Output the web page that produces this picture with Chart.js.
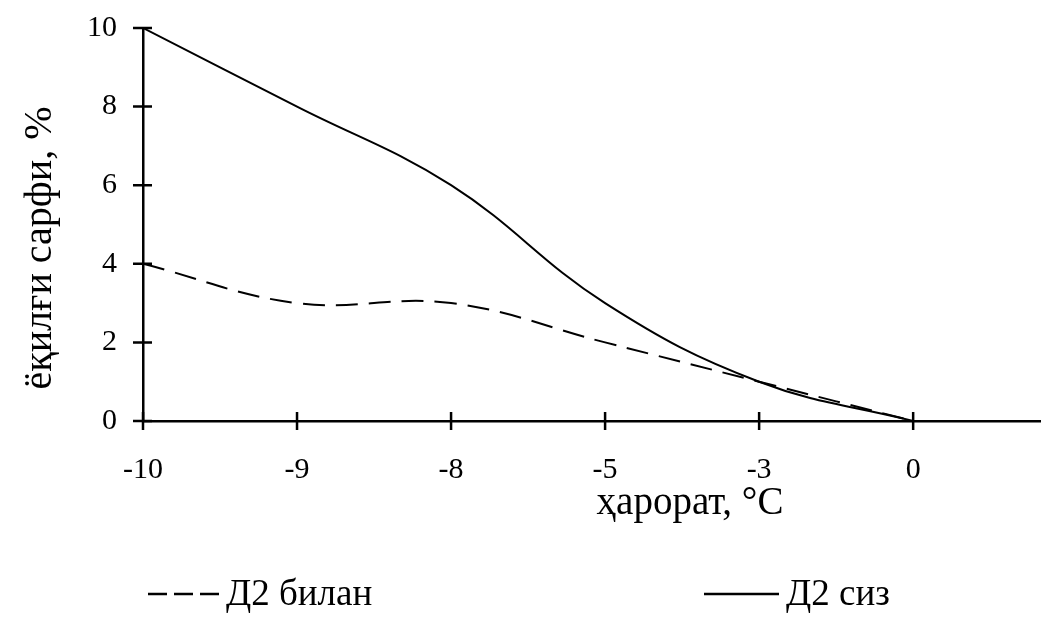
<!DOCTYPE html>
<html>
<head>
<meta charset="utf-8">
<script src="https://cdn.jsdelivr.net/npm/chart.js@4/dist/chart.umd.min.js"></script>
<style>
    html, body { margin: 0; padding: 0; background: #fff; }
    #wrap { width: 1041px; height: 632px; position: relative; }
</style>
</head>
<body>
<div id="wrap"><canvas id="fuelChart" width="1041" height="632"></canvas></div>
<script>
(function () {
    var categories = ['-10', '-9', '-8', '-5', '-3', '0'];
    var withD2 = [4, 3, 3, 2, 1, 0];
    var withoutD2 = [10, 8, 6, 3, 1, 0];
    var yTicks = [0, 2, 4, 6, 8, 10];

    var seriesNames = ['Д2 билан', 'Д2 сиз'];
    var xTitle = 'ҳарорат, °C';
    var yTitle = 'ёқилғи сарфи, %';

    var FONT = '"Liberation Serif", "Times New Roman", serif';

    function points(values) {
        return values.map(function (v, i) {
            return { x: i, y: v };
        });
    }

    // tick marks crossing the axis, titles and legend
    var decorations = {
        id: 'decorations',
        afterDraw: function (chart) {
            var ctx = chart.ctx;
            var xs = chart.scales.x;
            var ys = chart.scales.y;
            var x0 = xs.left;
            var y0 = ys.getPixelForValue(0);

            ctx.save();
            ctx.strokeStyle = '#000';
            ctx.lineWidth = 2.5;
            ctx.beginPath();
            categories.forEach(function (c, i) {
                var px = xs.getPixelForValue(i);
                ctx.moveTo(px, y0 - 9);
                ctx.lineTo(px, y0 + 9);
            });
            yTicks.forEach(function (v) {
                var py = ys.getPixelForValue(v);
                ctx.moveTo(x0 - 10, py);
                ctx.lineTo(x0 + 9, py);
            });
            ctx.stroke();

            ctx.fillStyle = '#000';
            ctx.textAlign = 'center';
            ctx.textBaseline = 'middle';
            ctx.font = '39px ' + FONT;
            ctx.fillText(xTitle, 690, 504);

            ctx.save();
            ctx.translate(40, 248);
            ctx.rotate(-Math.PI / 2);
            ctx.font = '40px ' + FONT;
            ctx.fillText(yTitle, 0, 0);
            ctx.restore();

            // legend
            var ly = 594;
            ctx.lineWidth = 2.5;
            ctx.setLineDash([19, 7]);
            ctx.beginPath();
            ctx.moveTo(148, ly);
            ctx.lineTo(219, ly);
            ctx.stroke();
            ctx.setLineDash([]);
            ctx.beginPath();
            ctx.moveTo(704, ly);
            ctx.lineTo(779, ly);
            ctx.stroke();

            ctx.font = '37px ' + FONT;
            ctx.textAlign = 'left';
            ctx.fillText(seriesNames[0], 226, ly + 1);
            ctx.fillText(seriesNames[1], 786, ly + 1);
            ctx.restore();
        }
    };

    new Chart(document.getElementById('fuelChart'), {
        type: 'line',
        data: {
            datasets: [
                {
                    label: seriesNames[0],
                    data: points(withD2),
                    borderColor: '#000',
                    borderWidth: 2,
                    borderDash: [22, 11],
                    pointRadius: 0,
                    tension: 0.4,
                    fill: false
                },
                {
                    label: seriesNames[1],
                    data: points(withoutD2),
                    borderColor: '#000',
                    borderWidth: 2,
                    pointRadius: 0,
                    tension: 0.4,
                    fill: false
                }
            ]
        },
        options: {
            responsive: false,
            animation: false,
            layout: {
                padding: { left: 0, top: 28, right: 0, bottom: 0 }
            },
            plugins: {
                legend: { display: false },
                tooltip: { enabled: false }
            },
            scales: {
                x: {
                    type: 'linear',
                    min: 0,
                    max: 5.83,
                    afterFit: function (scale) {
                        scale.height = 211;
                        scale.paddingLeft = 0;
                        scale.paddingRight = 0;
                    },
                    grid: { display: false, drawTicks: false },
                    border: { display: true, color: '#000', width: 2.5 },
                    ticks: {
                        stepSize: 1,
                        includeBounds: false,
                        padding: 31,
                        color: '#000',
                        font: { family: FONT, size: 30 },
                        maxRotation: 0,
                        autoSkip: false,
                        callback: function (value) {
                            return categories[value] !== undefined ? categories[value] : '';
                        }
                    }
                },
                y: {
                    min: 0,
                    max: 10,
                    afterFit: function (scale) {
                        scale.width = 143;
                        scale.paddingTop = 0;
                        scale.paddingBottom = 0;
                    },
                    grid: { display: false, drawTicks: false },
                    border: { display: true, color: '#000', width: 2.5 },
                    ticks: {
                        stepSize: 2,
                        padding: 26,
                        color: '#000',
                        font: { family: FONT, size: 30 }
                    }
                }
            }
        },
        plugins: [decorations]
    });
})();
</script>
</body>
</html>
